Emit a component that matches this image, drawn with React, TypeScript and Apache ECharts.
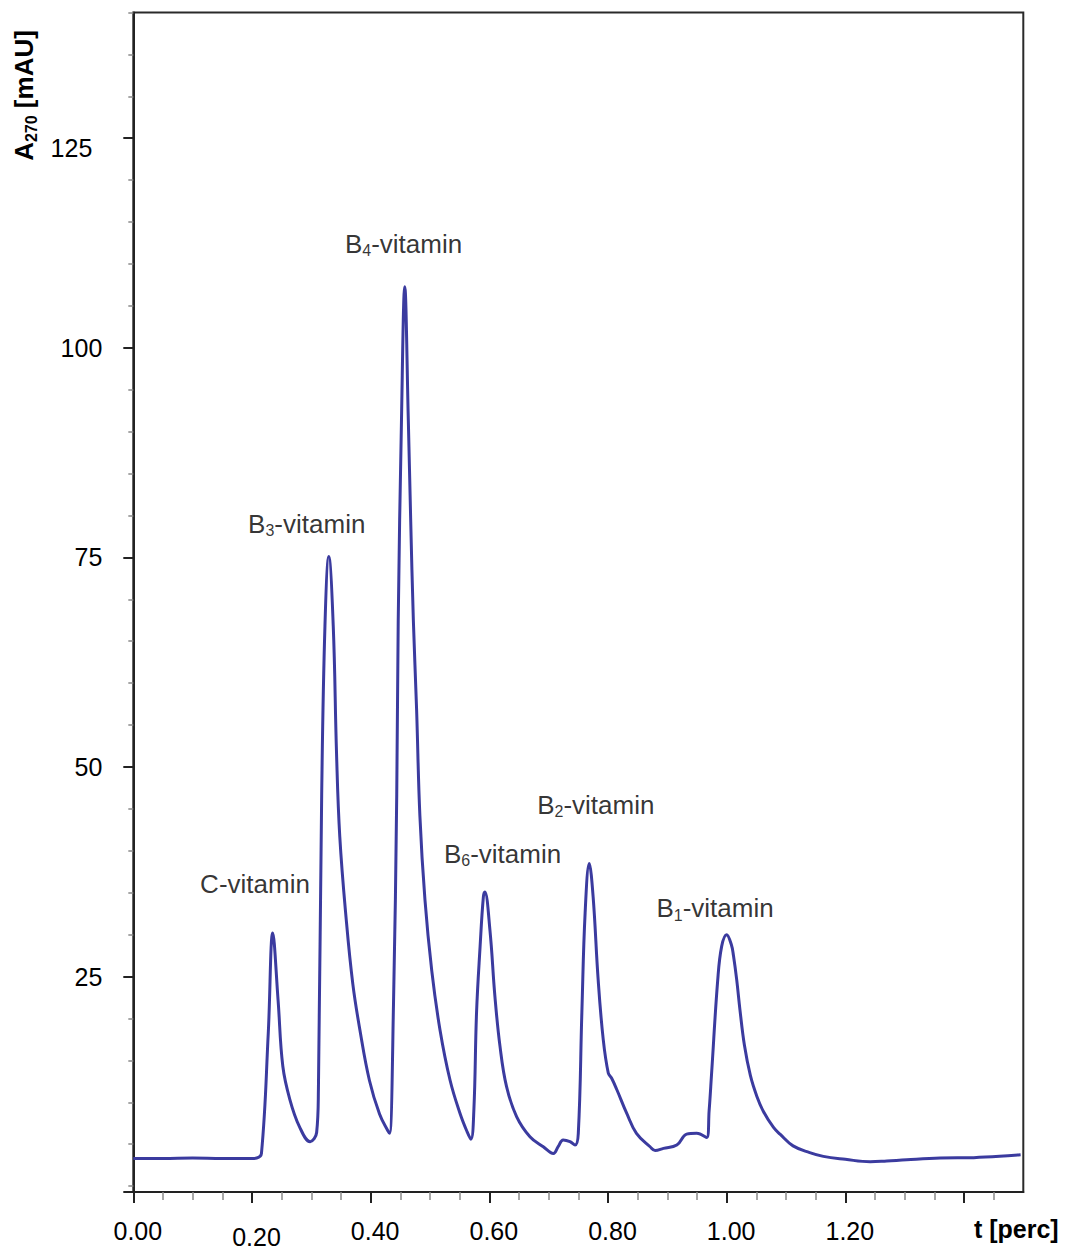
import React, { useEffect, useRef } from "react";
import * as echarts from "echarts";

// Retention time [perc] and absorbance A270 [mAU] of the chromatogram trace
const timeValues: number[] = [
  0.0, 0.05, 0.1, 0.15, 0.2, 0.208, 0.216, 0.2275, 0.235, 0.244, 0.252, 0.264, 0.28, 0.298,
  0.309, 0.312, 0.3175, 0.323, 0.3295, 0.337, 0.3425, 0.348, 0.359, 0.37, 0.382, 0.398, 0.415,
  0.429, 0.432, 0.4385, 0.444, 0.4465, 0.452, 0.4575, 0.4635, 0.4675, 0.472, 0.4775, 0.483,
  0.4915, 0.503, 0.517, 0.534, 0.551, 0.5625, 0.569, 0.574, 0.5785, 0.5845, 0.59, 0.5925,
  0.601, 0.6095, 0.618, 0.629, 0.646, 0.6685, 0.691, 0.708, 0.716, 0.7245, 0.736, 0.7445,
  0.75, 0.756, 0.7615, 0.7685, 0.775, 0.7835, 0.792, 0.8005, 0.806, 0.815, 0.8315, 0.848,
  0.871, 0.8795, 0.8935, 0.916, 0.9325, 0.9495, 0.9665, 0.9705, 0.9747, 0.985, 0.9916, 1.0,
  1.008, 1.0115, 1.017, 1.0225, 1.03, 1.04, 1.051, 1.062, 1.079, 1.09, 1.112, 1.14, 1.163,
  1.2, 1.242, 1.27, 1.3035, 1.36, 1.4165, 1.46, 1.4955,
];
const absorbanceValues: number[] = [
  3.3, 3.3, 3.35, 3.3, 3.3, 3.35, 3.9, 18.3, 30.2, 22.2, 14.3, 10.3, 7.1, 5.3,
  6.4, 11.6, 46.7, 66.8, 75.1, 66.8, 51.7, 41.7, 31.7, 24.1, 18.6, 12.6, 8.6,
  6.6, 6.3, 21.6, 46.7, 67.5, 91.4, 107.3, 91.4, 79.5, 67.5, 56.8, 44.2,
  34.2, 25.7, 18.6, 12.6, 8.6, 6.5, 5.6, 9.1, 20.7, 28.6, 34.5, 35.1,
  30.6, 22.6, 16.7, 11.9, 8.3, 5.9, 4.7, 3.9, 4.7, 5.5, 5.3, 4.9,
  6.3, 20.7, 32.6, 38.5, 34.5, 24.6, 17.5, 13.5, 12.9, 11.5, 8.7, 6.3,
  4.7, 4.25, 4.5, 4.9, 6.2, 6.3, 5.8, 9.0, 13.5, 24.6, 28.6, 30.0,
  28.8, 27.5, 24.6, 21.0, 16.8, 13.2, 10.7, 8.9, 7.0, 6.2, 4.8, 4.0, 3.55,
  3.2, 2.9, 3.0, 3.15, 3.35, 3.4, 3.55, 3.75,
];

// Peak annotations: base letter, subscript, and position (time, absorbance)
const peakBase: string[] = ["C", "B", "B", "B", "B", "B"];
const peakSub: string[] = ["", "3", "4", "6", "2", "1"];
const peakLabelT: number[] = [0.2051, 0.2923, 0.4554, 0.6223, 0.7795, 0.9804];
const peakLabelV: number[] = [36.06, 79.0, 112.39, 39.64, 45.48, 33.16];

// Axis ticks and labels
const xLabelValues: number[] = [0, 0.2, 0.4, 0.6, 0.8, 1.0, 1.2];
const xMajorTicks: number[] = [0, 0.2, 0.4, 0.6, 0.8, 1.0, 1.2, 1.4];
const xMinorTicks: number[] = [
  0.05, 0.1, 0.15, 0.25, 0.3, 0.35, 0.45, 0.5, 0.55, 0.65, 0.7, 0.75, 0.85, 0.9, 0.95,
  1.05, 1.1, 1.15, 1.25, 1.3, 1.35, 1.45,
];
const yLabelValues: number[] = [25, 50, 75, 100, 125];
const yMajorTicks: number[] = [-0.7, 25, 50, 75, 100, 125];
const yMinorTicks: number[] = [
  0, 5, 10, 15, 20, 30, 35, 40, 45, 55, 60, 65, 70, 80, 85, 90, 95, 105, 110, 115, 120, 130,
  135, 140,
];

const FONT = "'Liberation Sans', Arial, Helvetica, sans-serif";
const TEXT = "#000000";
const LINE = "#3b3b9f";

export default function App() {
  const ref = useRef<HTMLDivElement>(null);

  useEffect(() => {
    if (!ref.current) return;
    const chart = echarts.init(ref.current, undefined, { renderer: "svg" });

    const seriesData = timeValues.map((t, i) => [t, absorbanceValues[i]]);
    const peakData = peakLabelT.map((t, i) => ({
      value: [t, peakLabelV[i]],
      label: {
        formatter: peakSub[i]
          ? `{n|${peakBase[i]}}{s|${peakSub[i]}}{n|-vitamin}`
          : `{n|${peakBase[i]}-vitamin}`,
      },
    }));

    const option: any = {
      animation: false,
      backgroundColor: "#ffffff",
      textStyle: { fontFamily: FONT },
      grid: {
        left: 133.3,
        right: 42.7,
        top: 12.5,
        bottom: 56.8,
        show: true,
        borderColor: "#2a2a2a",
        borderWidth: 2,
        backgroundColor: "transparent",
      },
      xAxis: [
        {
          type: "value",
          min: 0,
          max: 1.5,
          position: "bottom",
          splitLine: { show: false },
          axisLine: { show: true, onZero: false, lineStyle: { color: "#222", width: 2 } },
          axisTick: {
            show: true,
            customValues: xMajorTicks,
            length: 11,
            lineStyle: { color: "#222", width: 2 },
          },
          axisLabel: {
            customValues: xLabelValues,
            margin: 26,
            formatter: (v: number) =>
              Math.abs(v - 0.2) < 1e-6 ? `{d|${v.toFixed(2)}}` : `{n|${v.toFixed(2)}}`,
            rich: {
              n: { fontSize: 25, color: TEXT, fontFamily: FONT, padding: [0, 0, 0, 9] },
              d: { fontSize: 25, color: TEXT, fontFamily: FONT, padding: [6, 0, 0, 9] },
            },
          },
          name: "t [perc]",
          nameLocation: "end",
          nameGap: -7,
          nameTextStyle: {
            fontSize: 25,
            fontWeight: "bold",
            color: TEXT,
            fontFamily: FONT,
            align: "center",
            verticalAlign: "top",
            padding: [24, 0, 0, 0],
          },
        },
        {
          type: "value",
          min: 0,
          max: 1.5,
          position: "bottom",
          splitLine: { show: false },
          axisLine: { show: false, onZero: false },
          axisTick: {
            show: true,
            customValues: xMinorTicks,
            length: 8,
            lineStyle: { color: "#8a8a8a", width: 1.5 },
          },
          axisLabel: { show: false },
        },
      ],
      yAxis: [
        {
          type: "value",
          min: -0.7,
          max: 140,
          position: "left",
          splitLine: { show: false },
          axisLine: { show: true, onZero: false, lineStyle: { color: "#222", width: 2 } },
          axisTick: {
            show: true,
            customValues: yMajorTicks,
            length: 10,
            lineStyle: { color: "#222", width: 2 },
          },
          axisLabel: {
            customValues: yLabelValues,
            margin: 31,
            formatter: (v: number) => (v === 125 ? `{o|${v}}` : `{n|${v}}`),
            rich: {
              n: { fontSize: 25, color: TEXT, fontFamily: FONT },
              o: { fontSize: 25, color: TEXT, fontFamily: FONT, padding: [20, 10, 0, 0] },
            },
          },
        },
        {
          type: "value",
          min: -0.7,
          max: 140,
          position: "left",
          splitLine: { show: false },
          axisLine: { show: false, onZero: false },
          axisTick: {
            show: true,
            customValues: yMinorTicks,
            length: 5,
            lineStyle: { color: "#8a8a8a", width: 1.5 },
          },
          axisLabel: { show: false },
        },
      ],
      graphic: [
        {
          type: "text",
          x: 24,
          y: 95.5,
          rotation: Math.PI / 2,
          style: {
            text: "{a|A}{s|270}{a| [mAU]}",
            align: "center",
            verticalAlign: "middle",
            fill: TEXT,
            rich: {
              a: {
                fontSize: 26,
                fontWeight: "bold",
                fontFamily: FONT,
                fill: TEXT,
                lineHeight: 30,
                verticalAlign: "middle",
              },
              s: {
                fontSize: 16,
                fontWeight: "bold",
                fontFamily: FONT,
                fill: TEXT,
                lineHeight: 14,
                verticalAlign: "bottom",
              },
            },
          },
        },
      ],
      series: [
        {
          type: "line",
          xAxisIndex: 0,
          yAxisIndex: 0,
          data: seriesData,
          showSymbol: false,
          symbol: "none",
          smooth: 0.4,
          lineStyle: { color: LINE, width: 3, join: "round" },
          silent: true,
        },
        {
          type: "scatter",
          xAxisIndex: 0,
          yAxisIndex: 0,
          data: peakData,
          symbolSize: 0,
          itemStyle: { color: "transparent" },
          silent: true,
          label: {
            show: true,
            position: "inside",
            rich: {
              n: {
                fontSize: 26,
                color: TEXT,
                fontFamily: FONT,
                lineHeight: 30,
                verticalAlign: "middle",
              },
              s: {
                fontSize: 16,
                color: TEXT,
                fontFamily: FONT,
                lineHeight: 12,
                verticalAlign: "bottom",
              },
            },
          },
        },
      ],
    };

    chart.setOption(option);
    return () => chart.dispose();
  }, []);

  return (
    <div
      ref={ref}
      style={{ position: "absolute", left: 0, top: 0, width: 1066, height: 1249 }}
    />
  );
}
